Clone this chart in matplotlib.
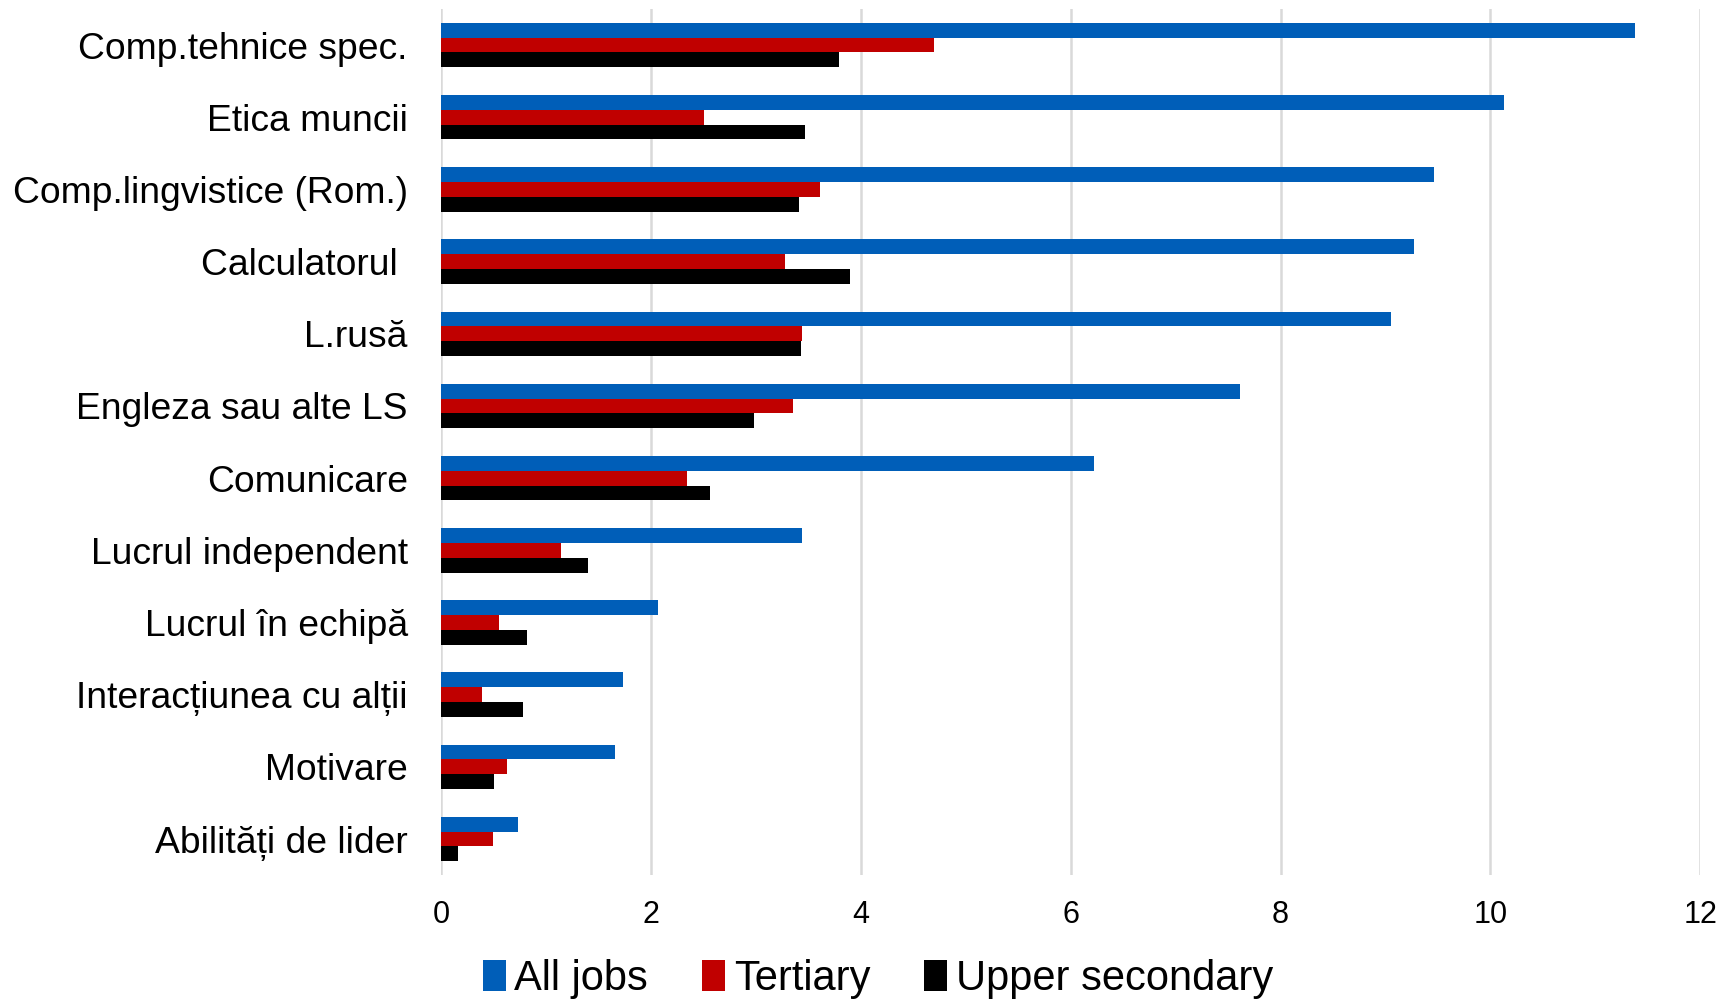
import numpy as np
import matplotlib.pyplot as plt

plt.rcParams['font.family'] = ['Liberation Sans', 'DejaVu Sans']

categories = ['Comp.tehnice spec.', 'Etica muncii', 'Comp.lingvistice (Rom.)',
              'Calculatorul ', 'L.rusă', 'Engleza sau alte LS', 'Comunicare',
              'Lucrul independent', 'Lucrul în echipă', 'Interacțiunea cu alții',
              'Motivare', 'Abilități de lider']
all_jobs = [11.38, 10.13, 9.46, 9.27, 9.05, 7.61, 6.22, 3.44, 2.07, 1.73, 1.66, 0.73]
tertiary = [4.70, 2.51, 3.61, 3.28, 3.44, 3.35, 2.34, 1.14, 0.55, 0.39, 0.63, 0.49]
upper_sec = [3.79, 3.47, 3.41, 3.90, 3.43, 2.98, 2.56, 1.40, 0.82, 0.78, 0.50, 0.16]

series = [('All jobs', all_jobs, '#005EB8'),
          ('Tertiary', tertiary, '#C00000'),
          ('Upper secondary', upper_sec, '#000000')]

fig = plt.figure(figsize=(17.25, 9.99), dpi=100)
ax = fig.add_axes([0.2557, 0.124, 0.73, 0.867])

y = np.arange(len(categories))
h = 0.205
for i, (name, vals, col) in enumerate(series):
    ax.barh(y + (i - 1) * h, vals, height=h, color=col, label=name, zorder=3)

ax.set_ylim(len(categories) - 0.5, -0.5)
ax.set_xlim(0, 12)
ax.set_xticks(range(0, 13, 2))
ax.set_yticks(y)
ax.set_yticklabels(categories)

ax.grid(axis='x', color='#D9D9D9', linewidth=1.8, zorder=0)
for s in ['top', 'right', 'bottom', 'left']:
    ax.spines[s].set_visible(False)
ax.tick_params(axis='y', length=0, pad=24, labelsize=26.8)
ax.tick_params(axis='x', length=0, pad=18, labelsize=22)

fig.legend(loc='center', bbox_to_anchor=(0.509, 0.02), ncol=3, frameon=False,
           fontsize=30, handlelength=0.55, handleheight=0.75, handletextpad=0.2,
           columnspacing=1.3)

fig.savefig('out.png', dpi=100)
